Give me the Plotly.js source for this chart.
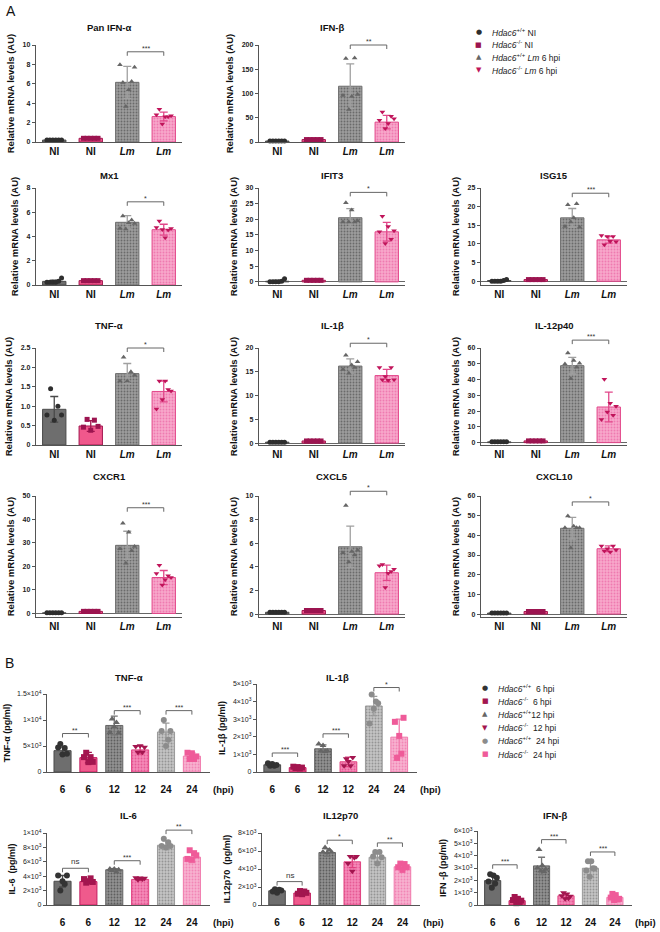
<!DOCTYPE html>
<html>
<head>
<meta charset="utf-8">
<script src="https://cdn.plot.ly/plotly-3.0.1.min.js"></script>
<style>
html, body { margin: 0; padding: 0; background: #fff; }
#chart { width: 660px; height: 932px; }
</style>
</head>
<body>
<div id="chart"></div>
<script>
const W = 660, H = 932;
const FONT = 'Liberation Sans, Arial, sans-serif';

// ---------- panel A : qPCR, 4 groups ----------
const groupsA = ['NI', 'NI', '<i>Lm</i>', '<i>Lm</i>'];

const panIfnaMean = [0.2, 0.38, 6.15, 2.62];
const panIfnaSd = [0.03, 0.03, 1.65, 0.45];
const panIfnaPts = [[0.2, 0.2, 0.2, 0.2, 0.2, 0.2], [0.38, 0.38, 0.38, 0.38, 0.38], [7.97, 6.14, 3.66, 5.38, 6.24, 7.7], [2.8, 3.38, 1.86, 2.6, 2.6, 2.7]];

const ifnbMean = [2, 5, 115, 41];
const ifnbSd = [0.5, 0.5, 46, 14];
const ifnbPts = [[2, 2, 2, 2, 2, 2], [5, 5, 5, 5, 5], [96, 172, 67, 94, 173, 98], [45, 62, 28, 38, 53, 48]];

const mx1Mean = [0.3, 0.36, 5.17, 4.56];
const mx1Sd = [0.1, 0.03, 0.55, 0.45];
const mx1Pts = [[0.22, 0.22, 0.22, 0.22, 0.3, 0.58], [0.36, 0.36, 0.36, 0.36, 0.36], [4.67, 5.7, 4.61, 5.14, 5.36, 5.08], [4.75, 5.28, 4.58, 3.9, 4.53, 4.67]];

const ifit3Mean = [0.2, 0.5, 20.5, 16];
const ifit3Sd = [0.3, 0.05, 2.9, 3];
const ifit3Pts = [[0, 0, 0, 0, 0.2, 1], [0.5, 0.5, 0.5, 0.5, 0.5], [19.1, 25.3, 19.1, 23, 19.1, 19.5], [16, 21, 12.3, 17.7, 13.6, 16.3]];

const isg15Mean = [0.2, 0.45, 17, 11.1];
const isg15Sd = [0.2, 0.05, 2.5, 0.9];
const isg15Pts = [[0, 0, 0, 0, 0.2, 0.5], [0.45, 0.45, 0.45, 0.45, 0.45], [14.7, 20.5, 15.9, 17, 20.8, 14.5], [12.3, 9.8, 12, 10.7, 12, 10.6]];

const tnfaAMean = [0.92, 0.49, 1.84, 1.38];
const tnfaASd = [0.33, 0.14, 0.26, 0.27];
const tnfaAPts = [[0.77, 1.45, 0.64, 1.0, 0.77], [0.46, 0.66, 0.38, 0.64, 0.48], [1.65, 2.26, 1.65, 1.89, 1.8], [0.93, 1.65, 1.17, 1.65, 1.43, 1.39]];

const il1bAMean = [0.2, 0.45, 16.2, 14.2];
const il1bASd = [0.05, 0.05, 1.5, 1.3];
const il1bAPts = [[0.2, 0.2, 0.2, 0.2, 0.2, 0.2], [0.45, 0.45, 0.45, 0.45, 0.45], [15.5, 18.5, 14.7, 16.4, 15.9, 17.1], [15.9, 13.3, 14, 13.2, 15.9, 13.3]];

const il12p40Mean = [0.5, 1.1, 48.8, 22.6];
const il12p40Sd = [0.2, 0.1, 5.3, 9.4];
const il12p40Pts = [[0.5, 0.5, 0.5, 0.5, 0.5, 0.5], [1.1, 1.1, 1.1, 1.1, 1.1], [49.9, 56.8, 40.5, 52, 47.8, 50.3], [14.7, 40.2, 19.5, 25, 17.4, 23]];

const cxcr1Mean = [0.3, 0.9, 29, 15.3];
const cxcr1Sd = [0.1, 0.1, 6, 3];
const cxcr1Pts = [[0.3, 0.3, 0.3, 0.3, 0.3, 0.3], [0.9, 0.9, 0.9, 0.9, 0.9], [27.5, 38.4, 21.4, 34.6, 26.7, 28.5], [17, 20.5, 12.1, 14.4, 16.1, 15.3]];

const cxcl5Mean = [0.15, 0.3, 5.7, 3.5];
const cxcl5Sd = [0.02, 0.03, 1.75, 0.65];
const cxcl5Pts = [[0.15, 0.15, 0.15, 0.15, 0.15, 0.15], [0.3, 0.3, 0.3, 0.3, 0.3], [5.2, 9.2, 4.4, 5.3, 5.0, 5.4], [4.1, 4.2, 2.24, 3.45, 3.6, 3.8]];

const cxcl10Mean = [0.5, 1.3, 43.6, 33.2];
const cxcl10Sd = [0.1, 0.1, 5.5, 1.5];
const cxcl10Pts = [[0.5, 0.5, 0.5, 0.5, 0.5, 0.5], [1.3, 1.3, 1.3, 1.3, 1.3], [43.9, 49.8, 33.6, 44.6, 43.9, 43.9], [34.6, 32, 33.2, 31.5, 34.6, 32.6]];

// ---------- panel B : ELISA, 6 groups ----------
const groupsB = ['6', '6', '12', '12', '24', '24'];

const tnfaBMean = [4100, 2760, 8950, 4250, 7700, 3050];
const tnfaBSd = [700, 1000, 1800, 800, 1700, 650];
const tnfaBPts = [[4700, 5400, 3350, 4600, 3500], [2860, 3700, 1900, 2860, 1950], [7600, 10200, 8700, 9500, 7500], [4900, 3800, 5050, 3800, 4760], [7900, 10000, 5000, 6200, 7900], [3700, 2500, 3600, 2500, 3000]];

const il1bBMean = [410, 250, 1320, 580, 3750, 1980];
const il1bBSd = [70, 40, 220, 270, 550, 1020];
const il1bBPts = [[500, 350, 450, 350, 400], [300, 220, 280, 200, 250], [1590, 1200, 1500, 1160, 1200], [350, 750, 600, 350, 820], [2750, 4400, 3600, 4000, 3900], [2850, 800, 2050, 1040, 3080]];

const il6Mean = [3300, 3250, 4900, 3550, 8300, 6650];
const il6Sd = [800, 300, 150, 150, 600, 750];
const il6Pts = [[4100, 2000, 3300, 2900, 4100], [3600, 3100, 3300, 3700, 3200], [5000, 4800, 5000, 4600, 4900], [3800, 3500, 3750, 3600, 3700], [8200, 9200, 8000, 8700, 8200], [6400, 7600, 6300, 7200, 6900]];

const il12p70Mean = [1580, 1330, 5830, 4800, 5300, 4250];
const il12p70Sd = [150, 150, 420, 650, 600, 350];
const il12p70Pts = [[1500, 1750, 1350, 1700, 1600], [1250, 1550, 1200, 1500, 1350], [5900, 6400, 5800, 6100, 5900], [4600, 5400, 3750, 5250, 5400], [5400, 5900, 4600, 5900, 5300], [4200, 4600, 3900, 4550, 4200]];

const ifnbBMean = [1980, 350, 3170, 750, 2980, 620];
const ifnbBSd = [420, 150, 700, 180, 660, 190];
const ifnbBPts = [[1900, 2500, 1400, 2400, 1750, 2200], [400, 650, 150, 500, 200, 350], [3000, 4500, 2750, 3200, 2700, 2900], [750, 1000, 500, 900, 550, 700], [2800, 3550, 2300, 3550, 2980, 2950], [600, 900, 400, 800, 450, 500]];

const legendA = ['<i>Hdac6</i><sup>+/+</sup> NI', '<i>Hdac6</i><sup>-/-</sup> NI', '<i>Hdac6</i><sup>+/+</sup> <i>Lm</i> 6 hpi', '<i>Hdac6</i><sup>-/-</sup> <i>Lm</i> 6 hpi'];
const legendB = ['<i>Hdac6</i><sup>+/+</sup>  6 hpi', '<i>Hdac6</i><sup>-/-</sup>  6 hpi', '<i>Hdac6</i><sup>+/+</sup>12 hpi', '<i>Hdac6</i><sup>-/-</sup>  12 hpi', '<i>Hdac6</i><sup>+/+</sup>  24 hpi', '<i>Hdac6</i><sup>-/-</sup>  24 hpi'];

// ---------- styles ----------
const styleA = [
    {bar: '#6e6e6e', line: '#4a4a4a', mk: '#2e2e2e', sym: 'circle', err: '#4a4a4a', glyph: '●'},
    {bar: '#f0588c', line: '#a3164f', mk: '#9c1450', sym: 'square', err: '#a3164f', glyph: '■'},
    {bar: '#9d9d9d', line: '#6e6e6e', fg: '#6a6a6a', mk: '#666666', sym: 'triangle-up', err: '#a0a0a0', glyph: '▲'},
    {bar: '#f8a8cb', line: '#e2478a', fg: '#ef7ab0', mk: '#c0145a', sym: 'triangle-down', err: '#e2478a', glyph: '▼'}
];
const styleB = [
    {bar: '#6e6e6e', line: '#4a4a4a', mk: '#333333', sym: 'circle', err: '#4a4a4a', glyph: '●'},
    {bar: '#ef5a8c', line: '#c21a5e', mk: '#a3154f', sym: 'square', err: '#a3154f', glyph: '■'},
    {bar: '#929292', line: '#666666', fg: '#5e5e5e', mk: '#666666', sym: 'triangle-up', err: '#777777', glyph: '▲'},
    {bar: '#f58ab8', line: '#e0407f', fg: '#e65a95', mk: '#a3154f', sym: 'triangle-down', err: '#e0407f', glyph: '▼'},
    {bar: '#c4c4c4', line: '#9a9a9a', fg: '#949494', mk: '#8c8c8c', sym: 'circle', err: '#9a9a9a', glyph: '●'},
    {bar: '#f8b2d0', line: '#f07aac', fg: '#f285b5', mk: '#ef5b99', sym: 'square', err: '#f07aac', glyph: '■'}
];

// pixel boxes [left, right, top, bottom]
const colsA = [[36, 182], [259, 405], [481, 627]];
const rowsA = [[45, 142], [188, 285], [348, 445], [496, 617]];
const titleGapA = [18, 12, 22, 19];

const panels = [
    {name: 'Pan IFN-α', mean: panIfnaMean, sd: panIfnaSd, pts: panIfnaPts, range: [0, 10], ticks: [0, 2, 4, 6, 8, 10], sig: [[2, 3, 9.3, '***']], col: 0, row: 0},
    {name: 'IFN-β', mean: ifnbMean, sd: ifnbSd, pts: ifnbPts, range: [0, 200], ticks: [0, 50, 100, 150, 200], sig: [[2, 3, 200, '**']], col: 1, row: 0},
    {name: 'Mx1', mean: mx1Mean, sd: mx1Sd, pts: mx1Pts, range: [0, 8], ticks: [0, 2, 4, 6, 8], sig: [[2, 3, 6.86, '*']], col: 0, row: 1},
    {name: 'IFIT3', mean: ifit3Mean, sd: ifit3Sd, pts: ifit3Pts, range: [-1, 30], ticks: [0, 5, 10, 15, 20, 25, 30], sig: [[2, 3, 28.6, '*']], col: 1, row: 1},
    {name: 'ISG15', mean: isg15Mean, sd: isg15Sd, pts: isg15Pts, range: [-1, 25], ticks: [0, 5, 10, 15, 20, 25], sig: [[2, 3, 23.6, '***']], col: 2, row: 1},
    {name: 'TNF-α', mean: tnfaAMean, sd: tnfaASd, pts: tnfaAPts, range: [0, 2.5], ticks: [0, 0.5, 1, 1.5, 2, 2.5], tickText: ['0', '0.5', '1.0', '1.5', '2.0', '2.5'], sig: [[2, 3, 2.5, '*']], col: 0, row: 2},
    {name: 'IL-1β', mean: il1bAMean, sd: il1bASd, pts: il1bAPts, range: [-0.4, 20], ticks: [0, 5, 10, 15, 20], sig: [[2, 3, 21, '*']], col: 1, row: 2},
    {name: 'IL-12p40', mean: il12p40Mean, sd: il12p40Sd, pts: il12p40Pts, range: [-1.5, 60], ticks: [0, 10, 20, 30, 40, 50, 60], sig: [[2, 3, 65, '***']], col: 2, row: 2},
    {name: 'CXCR1', mean: cxcr1Mean, sd: cxcr1Sd, pts: cxcr1Pts, range: [-1.5, 50], ticks: [0, 10, 20, 30, 40, 50], sig: [[2, 3, 45, '***']], col: 0, row: 3},
    {name: 'CXCL5', mean: cxcl5Mean, sd: cxcl5Sd, pts: cxcl5Pts, range: [-0.25, 10], ticks: [0, 2, 4, 6, 8, 10], sig: [[2, 3, 10.4, '*']], col: 1, row: 3},
    {name: 'CXCL10', mean: cxcl10Mean, sd: cxcl10Sd, pts: cxcl10Pts, range: [-1.5, 60], ticks: [0, 10, 20, 30, 40, 50, 60], sig: [[2, 3, 57, '*']], col: 2, row: 3}
];
panels.forEach(p => {
    p.box = [colsA[p.col][0], colsA[p.col][1], rowsA[p.row][0], rowsA[p.row][1]];
    p.titleGap = titleGapA[p.row];
    p.groups = groupsA;
    p.style = styleA;
    p.xr = [-0.5, 3.5];
    p.ytitle = 'Relative mRNA levels (AU)';
    p.kind = 'A';
});

const sup = (m, e) => m + '×10<sup>' + e + '</sup>';
const panelsB = [
    {name: 'TNF-α', ytitle: 'TNF-α (pg/ml)', mean: tnfaBMean, sd: tnfaBSd, pts: tnfaBPts, range: [0, 15000], ticks: [0, 5000, 10000, 15000], tickText: ['0', sup(5, 3), sup(1, 4), sup(1.5, 4)],
     sig: [[0, 1, 7400, '**'], [2, 3, 11800, '***'], [4, 5, 11800, '***']], box: [47, 210, 694, 772], titleGap: 16},
    {name: 'IL-1β', ytitle: 'IL-1β (pg/ml)', mean: il1bBMean, sd: il1bBSd, pts: il1bBPts, range: [0, 5000], ticks: [0, 1000, 2000, 3000, 4000, 5000], tickText: ['0', sup(1, 3), sup(2, 3), sup(3, 3), sup(4, 3), sup(5, 3)],
     sig: [[0, 1, 1080, '***'], [2, 3, 2170, '***'], [4, 5, 4800, '*']], box: [257, 417, 684, 772], titleGap: 6},
    {name: 'IL-6', ytitle: 'IL-6  (pg/ml)', mean: il6Mean, sd: il6Sd, pts: il6Pts, range: [0, 10000], ticks: [0, 2000, 4000, 6000, 8000, 10000], tickText: ['0', sup(2, 3), sup(4, 3), sup(6, 3), sup(8, 3), sup(1, 4)],
     sig: [[0, 1, 5100, 'ns'], [2, 3, 6150, '***'], [4, 5, 10400, '**']], box: [47, 210, 833, 905], titleGap: 18},
    {name: 'IL12p70', ytitle: 'IL12p70  (pg/ml)', mean: il12p70Mean, sd: il12p70Sd, pts: il12p70Pts, range: [0, 8000], ticks: [0, 2000, 4000, 6000, 8000], tickText: ['0', sup(2, 3), sup(4, 3), sup(6, 3), sup(8, 3)],
     sig: [[0, 1, 2600, 'ns'], [2, 3, 7200, '*'], [4, 5, 6900, '**']], box: [262, 420, 833, 905], titleGap: 18},
    {name: 'IFN-β', ytitle: 'IFN -β (pg/ml)', mean: ifnbBMean, sd: ifnbBSd, pts: ifnbBPts, range: [0, 6000], ticks: [0, 1000, 2000, 3000, 4000, 5000, 6000], tickText: ['0', sup(1, 3), sup(2, 3), sup(3, 3), sup(4, 3), sup(5, 3), sup(6, 3)],
     sig: [[0, 1, 3260, '***'], [2, 3, 5300, '***'], [4, 5, 4300, '***']], box: [478, 632, 831, 905], titleGap: 16}
];
panelsB.forEach(p => {
    p.groups = groupsB;
    p.style = styleB;
    p.xr = [-0.6, 5.7];
    p.kind = 'B';
    panels.push(p);
});

function spread(n, w) {
    return Array.from({length: n}, (_, j) => n > 1 ? -w + 2 * w * j / (n - 1) : 0);
}
function toPaperY(v, range, dom) {
    return dom[0] + (v - range[0]) / (range[1] - range[0]) * (dom[1] - dom[0]);
}

const traces = [];
const shapes = [];
const annotations = [];
const layout = {
    width: W, height: H,
    margin: {l: 0, r: 0, t: 0, b: 0},
    paper_bgcolor: '#fff', plot_bgcolor: 'rgba(0,0,0,0)',
    showlegend: false,
    barmode: 'overlay',
    font: {family: FONT, color: '#111'}
};

panels.forEach((p, k) => {
    const id = k === 0 ? '' : String(k + 1);
    const xa = 'x' + id, ya = 'y' + id;
    const isA = p.kind === 'A';
    const xDom = [p.box[0] / W, p.box[1] / W];
    const yDom = [1 - p.box[3] / H, 1 - p.box[2] / H];

    p.mean.forEach((m, i) => {
        const st = p.style[i];
        const marker = {color: st.bar, line: {color: st.line, width: 1}};
        if (st.fg) {
            marker.pattern = {shape: '.', fgcolor: st.fg, bgcolor: st.bar, size: 3, solidity: 0.3};
        }
        traces.push({
            type: 'bar', x: [i], y: [m], width: isA ? 0.64 : 0.66,
            xaxis: xa, yaxis: ya, marker: marker,
            error_y: {type: 'data', array: [p.sd[i]], visible: true, color: st.err, thickness: 1.3, width: isA ? 4 : 3.5},
            hoverinfo: 'skip'
        });
    });
    p.pts.forEach((vals, i) => {
        const st = p.style[i];
        const off = spread(vals.length, isA ? 0.2 : 0.17);
        traces.push({
            type: 'scatter', mode: 'markers',
            x: vals.map((v, j) => i + off[j]), y: vals,
            xaxis: xa, yaxis: ya, cliponaxis: false,
            marker: {symbol: st.sym, size: isA ? 5 : 6, color: st.mk},
            hoverinfo: 'skip'
        });
    });

    layout['xaxis' + id] = {
        domain: xDom, anchor: ya, range: p.xr,
        tickvals: p.groups.map((_, i) => i), ticktext: p.groups,
        showline: true, linecolor: '#555', linewidth: 1.2, ticks: '',
        ticklabelstandoff: isA ? 0 : 8,
        showgrid: false, zeroline: false, fixedrange: true,
        tickfont: {family: FONT, size: 10, weight: 'bold', color: '#111'}
    };
    layout['yaxis' + id] = {
        domain: yDom, anchor: xa, range: p.range,
        tickvals: p.ticks, ticktext: p.tickText,
        showline: true, linecolor: '#555', linewidth: 1.2,
        ticks: 'outside', ticklen: 3, tickwidth: 1, tickcolor: '#555',
        showgrid: false, fixedrange: true,
        zeroline: p.range[0] < 0, zerolinecolor: '#666', zerolinewidth: 1,
        tickfont: {family: FONT, size: isA ? 7 : 7, weight: isA ? 'bold' : 'normal', color: '#222'},
        title: {text: p.ytitle, font: {family: FONT, size: isA ? 9.5 : 9, weight: 'bold', color: '#111'}, standoff: isA ? 6 : 5}
    };

    // panel title
    annotations.push({
        xref: 'paper', yref: 'paper', x: (xDom[0] + xDom[1]) / 2, y: yDom[1] + p.titleGap / H,
        text: p.name, showarrow: false, xanchor: 'center', yanchor: 'middle',
        font: {family: FONT, size: 9.5, weight: 'bold', color: '#111'}
    });

    // significance brackets
    p.sig.forEach(([a, b, v, label]) => {
        const yp = toPaperY(v, p.range, yDom);
        const tick = 4 / H;
        const line = {color: '#666', width: 1};
        shapes.push({type: 'line', xref: xa, yref: 'paper', x0: a, x1: b, y0: yp, y1: yp, line: line});
        shapes.push({type: 'line', xref: xa, yref: 'paper', x0: a, x1: a, y0: yp, y1: yp - tick, line: line});
        shapes.push({type: 'line', xref: xa, yref: 'paper', x0: b, x1: b, y0: yp, y1: yp - tick, line: line});
        annotations.push({
            xref: xa, yref: 'paper', x: (a + b) / 2, y: yp, yanchor: 'bottom', yshift: label === 'ns' ? 0 : -2,
            text: label, showarrow: false,
            font: {family: FONT, size: label === 'ns' ? 8 : 7, color: '#333'}
        });
    });

    if (!isA) {
        annotations.push({
            xref: xa + ' domain', yref: 'paper', x: 1, xanchor: 'left', xshift: 1,
            y: yDom[0] - 17 / H, yanchor: 'middle',
            text: '(hpi)', showarrow: false,
            font: {family: FONT, size: 9.5, weight: 'bold', color: '#111'}
        });
    }
});

// panel letters
annotations.push({xref: 'paper', yref: 'paper', x: 4 / W, y: 1 - 11 / H, text: 'A', showarrow: false, xanchor: 'left', yanchor: 'middle', font: {family: FONT, size: 14, color: '#111'}});
annotations.push({xref: 'paper', yref: 'paper', x: 3 / W, y: 1 - 663 / H, text: 'B', showarrow: false, xanchor: 'left', yanchor: 'middle', font: {family: FONT, size: 14, color: '#111'}});

// legends drawn as glyph + text rows
function addLegend(labels, styles, x, y0, dy) {
    labels.forEach((lab, i) => {
        const yy = 1 - (y0 + i * dy) / H;
        annotations.push({xref: 'paper', yref: 'paper', x: x / W, y: yy, xanchor: 'center', yanchor: 'middle',
            text: styles[i].glyph, showarrow: false, font: {family: 'DejaVu Sans', size: 7, color: styles[i].mk}});
        annotations.push({xref: 'paper', yref: 'paper', x: (x + 11) / W, y: yy, xanchor: 'left', yanchor: 'middle',
            text: lab, showarrow: false, font: {family: FONT, size: 8.5, color: '#222'}});
    });
}
addLegend(legendA, styleA, 479, 32, 12.7);
addLegend(legendB, styleB, 485, 688, 13.2);

layout.shapes = shapes;
layout.annotations = annotations;

Plotly.newPlot('chart', traces, layout, {staticPlot: true, displayModeBar: false});
</script>
</body>
</html>
